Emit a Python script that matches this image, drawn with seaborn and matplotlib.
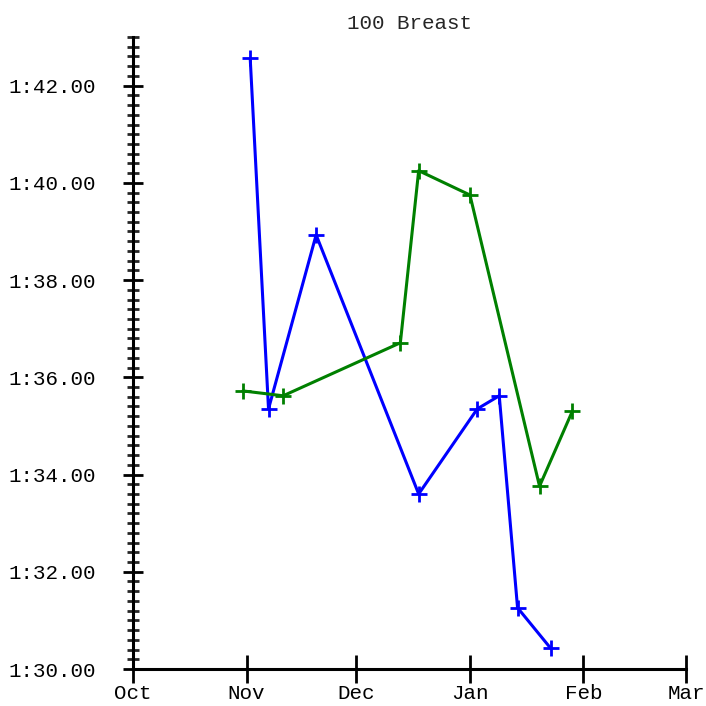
import pandas as pd
import numpy as np
import matplotlib
matplotlib.use("Agg")
import matplotlib.pyplot as plt
import matplotlib.dates as mdates
from matplotlib.ticker import MultipleLocator, FuncFormatter
import seaborn as sns

sns.set_theme(style="white")
plt.rcParams["font.family"] = ["Liberation Mono", "DejaVu Sans Mono"]

# %% data (times in seconds)
blue_dates = ["2006-11-02", "2006-11-07", "2006-11-20", "2006-12-18",
              "2007-01-03", "2007-01-09", "2007-01-14", "2007-01-23"]
blue_times = [102.56, 95.35, 98.93, 93.60, 95.35, 95.62, 91.26, 90.43]

green_dates = ["2006-10-31", "2006-11-11", "2006-12-13", "2006-12-18",
               "2007-01-01", "2007-01-20", "2007-01-29"]
green_times = [95.72, 95.62, 96.71, 100.25, 99.75, 93.76, 95.31]

month_labels = ["Oct", "Nov", "Dec", "Jan", "Feb", "Mar"]
title = "100 Breast"

blue = pd.DataFrame({"date": pd.to_datetime(blue_dates), "time": blue_times})
green = pd.DataFrame({"date": pd.to_datetime(green_dates), "time": green_times})

# %% plot
fig = plt.figure(figsize=(7.06, 7.06), dpi=100)
ax = fig.add_axes([0.1884, 0.0524, 0.9717 - 0.1884, 0.9476 - 0.0524])

line_kw = dict(marker="+", markersize=11, markeredgewidth=2, linewidth=2.2, sort=False)
sns.lineplot(data=blue, x="date", y="time", color="#0000ff",
             markeredgecolor="#0000ff", ax=ax, **line_kw)
sns.lineplot(data=green, x="date", y="time", color="#008000",
             markeredgecolor="#008000", ax=ax, **line_kw)

ax.set_xlim(pd.Timestamp("2006-10-01"), pd.Timestamp("2007-03-01"))
ax.set_ylim(90, 103)

ax.set_xticks(pd.date_range("2006-10-01", "2007-03-01", freq="MS"))
ax.set_xticklabels(month_labels)
ax.yaxis.set_major_locator(MultipleLocator(2))
ax.yaxis.set_minor_locator(MultipleLocator(0.2))
ax.yaxis.set_major_formatter(
    FuncFormatter(lambda v, p: f"{int(v // 60)}:{v % 60:05.2f}"))

for side in ["top", "right"]:
    ax.spines[side].set_visible(False)
for side in ["left", "bottom"]:
    ax.spines[side].set_color("black")
    ax.spines[side].set_linewidth(2.2)

ax.tick_params(axis="y", which="major", direction="inout", length=14,
               width=2, pad=20, labelsize=15, colors="black", left=True)
ax.tick_params(axis="y", which="minor", direction="inout", length=9,
               width=2, left=True)
ax.tick_params(axis="x", which="major", direction="inout", length=20,
               width=2, pad=1, labelsize=15, colors="black", bottom=True)
ax.tick_params(axis="x", which="minor", bottom=False)

ax.set_xlabel("")
ax.set_ylabel("")
ax.set_title(title, fontsize=15, pad=6)
ax.grid(False)

fig.savefig("out.png", dpi=100)
